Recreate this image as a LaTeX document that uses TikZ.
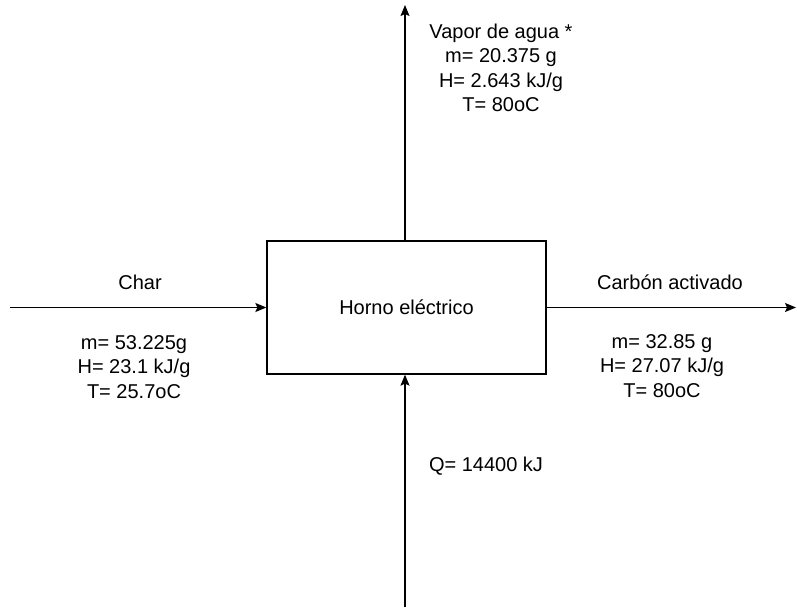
\documentclass[tikz,border=0pt]{standalone}
\usepackage{fontspec}
\setmainfont{Liberation Sans}
\usetikzlibrary{arrows.meta}

\begin{document}
\begin{tikzpicture}[x=1pt,y=-1pt,font=\fontsize{20}{24.3}\selectfont,>={Stealth[length=11pt,width=9pt,inset=2pt]},line width=1.3pt]
\useasboundingbox (0,0) rectangle (797,610);
\node[draw,minimum width=279pt,minimum height=133pt,inner sep=0pt] (horno) at (406.5,307.5) {Horno eléctrico};
\coordinate (charin) at (10,307.5);
\coordinate (carbonout) at (796,307.5);
\coordinate (vaporout) at (405,5);
\coordinate (qin) at (405,607);
\draw[->] (charin) -- (horno.west);
\draw[->] (horno.east) -- (carbonout);
\draw[->] (horno.north -| vaporout) -- (vaporout);
\draw[->] (qin) -- (horno.south -| qin);
\node (char) at (140,282) {Char};
\node[align=center] (chardatos) at (134,367) {m= 53.225g\\H= 23.1 kJ/g\\T= 25.7oC};
\node (carbon) at (670,282) {Carbón activado};
\node[align=center] (carbondatos) at (662,366) {m= 32.85 g\\H= 27.07 kJ/g\\T= 80oC};
\node[align=center] (vapor) at (501,68) {Vapor de agua *\\m= 20.375 g\\H= 2.643 kJ/g\\T= 80oC};
\node (q) at (486,466) {Q= 14400 kJ};
\end{tikzpicture}
\end{document}
